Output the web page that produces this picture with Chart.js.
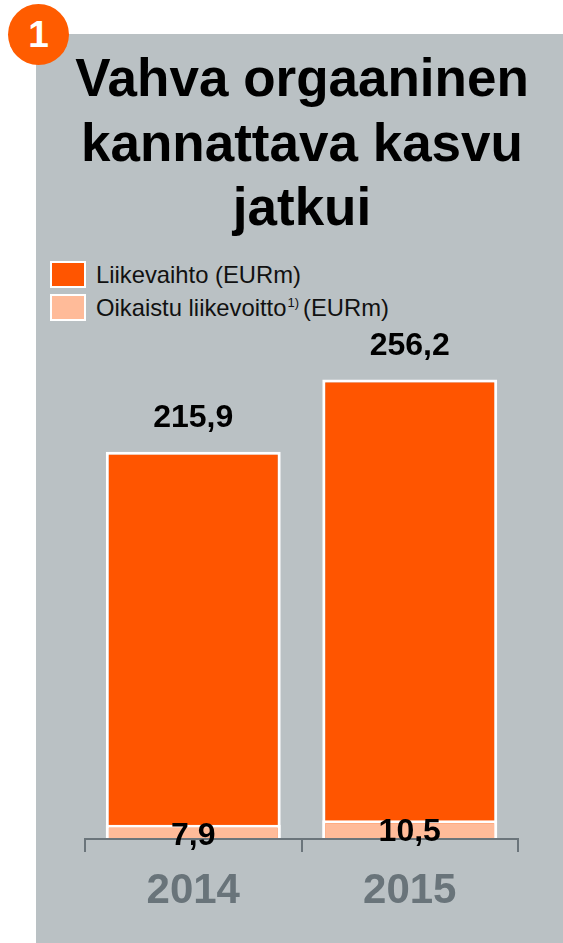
<!DOCTYPE html>
<html><head><meta charset="utf-8">
<script src="https://cdn.jsdelivr.net/npm/chart.js@4"></script>
<style>
html,body{margin:0;padding:0;background:#fff;width:563px;height:943px;overflow:hidden;font-family:"Liberation Sans",Arial,sans-serif}
#panel{position:absolute;left:36px;top:34px;width:527px;height:909px;background:#bac1c4}
#badge{position:absolute;left:8px;top:4px;width:61px;height:61px;border-radius:50%;background:#ff5c00;color:#fff;font-weight:bold;font-size:37px;line-height:61px;text-align:center}
#title{position:absolute;left:42px;top:46px;width:520px;text-align:center;font-weight:bold;font-size:53px;line-height:64.5px;color:#000}
.lg{position:absolute;left:50px;height:27px;display:flex;align-items:center;font-size:23.8px;color:#111;white-space:nowrap}
.sw{display:inline-block;width:32px;height:23px;border:2px solid #fff;margin-right:10px;flex:none}
.lg sup{font-size:13px;line-height:0;position:relative;top:-5px;vertical-align:baseline;margin:0 4px 0 1px}
canvas{position:absolute;left:0;top:0}
</style></head><body>
<div id="panel"></div>
<div id="title">Vahva orgaaninen<br>kannattava kasvu<br>jatkui</div>
<div id="legend"></div>
<div id="badge">1</div>
<canvas id="c" width="563" height="943"></canvas>
<script>
const categories = ['2014','2015'];
const revenue = [215.9,256.2];
const adjustedEbit = [7.9,10.5];
const revenueName = 'Liikevaihto (EURm)';
const ebitName = 'Oikaistu liikevoitto';
const colorRevenue = '#ff5500';
const colorEbit = '#ffbb99';

document.getElementById('legend').innerHTML =
 `<div class="lg" style="top:261px"><span class="sw" style="background:${colorRevenue}"></span>${revenueName}</div>`+
 `<div class="lg" style="top:294px"><span class="sw" style="background:${colorEbit}"></span>${ebitName}<sup>1)</sup>(EURm)</div>`;

const valueLabels = {
  id:'valueLabels',
  afterDraw(chart){
    const ctx = chart.ctx;
    ctx.save();
    ctx.fillStyle='#000';
    ctx.font='bold 32px "Liberation Sans", Arial, sans-serif';
    ctx.textAlign='center';
    ctx.textBaseline='middle';
    chart.data.datasets.forEach((ds,di)=>{
      chart.getDatasetMeta(di).data.forEach((el,i)=>{
        const offset = ds.labelOffset;
        ctx.fillText(String(ds.data[i]).replace('.',','), el.x, el.y+offset);
      });
    });
    ctx.restore();
  }
};

new Chart(document.getElementById('c'),{
  type:'bar',
  data:{labels:categories,datasets:[
    {label:ebitName,data:adjustedEbit,backgroundColor:colorEbit,borderColor:'#fff',borderWidth:3,order:1,labelOffset:11.5},
    {label:revenueName,data:revenue,backgroundColor:colorRevenue,borderColor:'#fff',borderWidth:3,order:2,labelOffset:-33.5}
  ]},
  options:{
    responsive:false,animation:false,
    layout:{padding:{left:85,right:45,top:338,bottom:0}},
    plugins:{legend:{display:false},title:{display:false},tooltip:{enabled:false}},
    datasets:{bar:{grouped:false,barPercentage:0.808,categoryPercentage:1}},
    scales:{
      x:{
        grid:{drawOnChartArea:false,drawTicks:true,tickLength:13,color:'#6b757b',lineWidth:2,offset:true},
        border:{display:true,color:'#6b757b',width:2,z:1},
        ticks:{color:'#69747a',font:{family:'"Liberation Sans", Arial, sans-serif',size:42,weight:'bold'},padding:14,maxRotation:0},
        afterFit(s){s.height=104;}
      },
      y:{display:false,min:0,max:279.4}
    }
  },
  plugins:[valueLabels]
});
</script>
</body></html>
